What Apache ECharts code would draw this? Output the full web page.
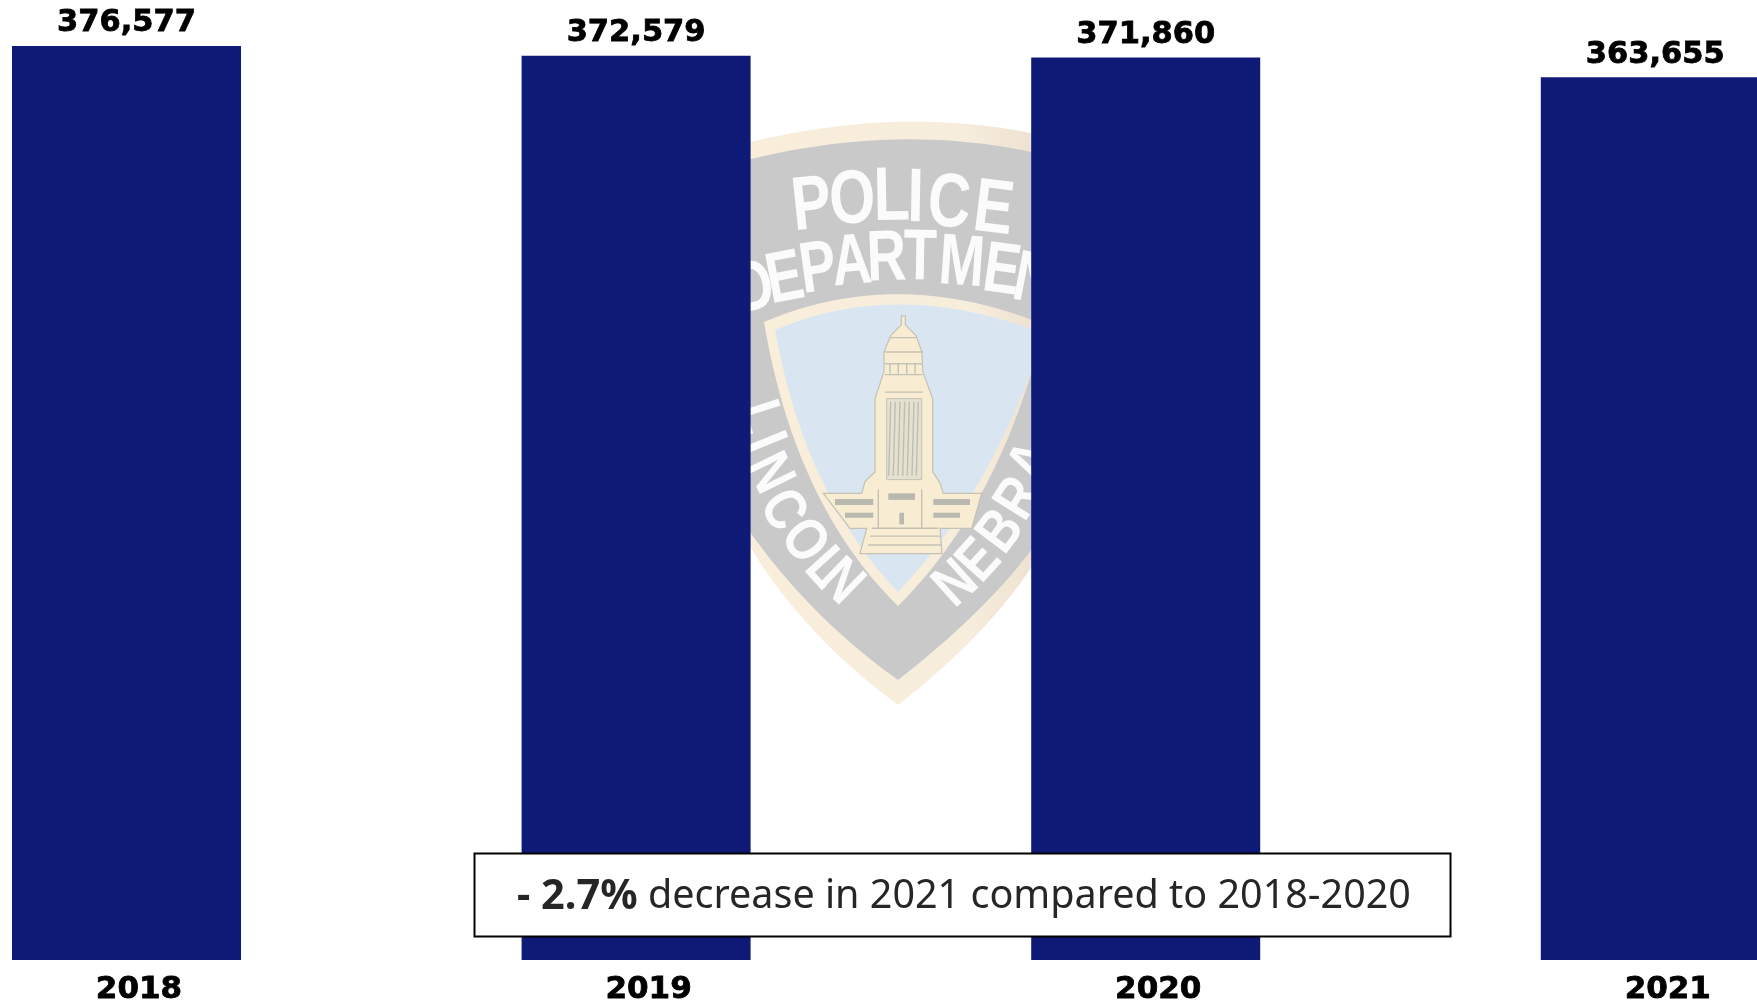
<!DOCTYPE html>
<html><head><meta charset="utf-8">
<style>html,body{margin:0;padding:0;background:#fff}#c{width:1757px;height:1004px}</style>
<script src="https://cdn.jsdelivr.net/npm/echarts@6/dist/echarts.min.js"></script>
</head><body><div id="c"></div>
<script>
const categories = ['2018','2019','2020','2021'];
const stops = [376577,372579,371860,363655];
const note = ['- 2.7%',' decrease in 2021 compared to 2018-2020'];

const Z=-5, LINE='#c4c2b4', CREAM='#f8ecd3';
const g=[];
// turn a small M/L/Q/Z outline into sampled points
function flatten(d){
  const pts=[];let cur=[0,0];
  for(const m of d.matchAll(/([MLQ])([^MLQZ]*)/g)){
    const n=m[2].trim().split(/[ ,]+/).map(Number);
    if(m[1]==='Q'){for(let i=1;i<=24;i++){const t=i/24,u=1-t;pts.push([u*u*cur[0]+2*u*t*n[0]+t*t*n[2],u*u*cur[1]+2*u*t*n[1]+t*t*n[3]]);}cur=[n[2],n[3]];}
    else{pts.push(n);cur=n;}
  }
  return pts;
}
const draw=(d,z,style)=>g.push({type:/Z$/.test(d)?'polygon':'polyline',z:Z+z,silent:true,shape:{points:flatten(d)},style});
const zx=x=>740+x/3, zy=y=>110+y/2.57;
const zp=(pts,close=true)=>'M'+pts.map(p=>zx(p[0]).toFixed(1)+','+zy(p[1]).toFixed(1)).join('L')+(close?'Z':'');
const outerGrad={type:'linear',x:0,y:0,x2:1,y2:0,colorStops:[{offset:0,color:'#f9eeda'},{offset:.75,color:'#f7eddc'},{offset:1,color:'#ecdfcf'}]};
draw('M735,146Q898,103 1045,136L1045,545Q1000,625 898,705Q790,625 735,520Z',0,{fill:outerGrad});
draw('M735,163Q898,120 1045,155L1045,530Q1000,600 898,680Q800,610 735,510Z',1,{fill:'#c9c9c9'});
draw('M764,322Q898,265 1045,325Q1000,505 898,606Q795,505 764,322Z',2,{fill:outerGrad});
draw('M775,330Q898,277 1045,334Q990,495 898,592Q805,495 775,330Z',3,{fill:'#d9e6f1'});
// capitol building
const add=(d,fill,stroke,w,z)=>draw(d,4+(z||0),{fill:fill||'none',stroke:stroke||'none',lineWidth:w||1});
add(zp([[484,530],[496,530],[496,552],[528,580],[546,622],[548,672],[578,742],[578,930],[600,958],[610,985],[725,985],[695,1075],[600,1075],[606,1140],[360,1140],[380,1075],[330,1075],[250,985],[365,985],[375,955],[405,930],[405,742],[432,672],[432,622],[452,580],[484,552]]),CREAM,LINE,1.2);
add(zp([[440,742],[545,742],[545,950],[440,950]]),'#e6e0cf',LINE,1,1);
for(const x of [452,466,480,494,508,522,535]) add(zp([[x,750],[x-6,940]],false),null,'#bdbdb2',1.4,2);
for(const y of [622,652,680,725]) add(zp([[435,y],[548,y]],false),null,LINE,1.4,2);
add(zp([[450,585],[530,585]],false),null,LINE,1.2,2);
for(const x of [450,475,500,525]) add(zp([[x,650],[x,678]],false),null,LINE,1.4,2);
for(const r of [[285,1000,400,1015],[580,1000,690,1015],[315,1035,400,1048],[580,1035,660,1048],[445,985,525,1002],[478,1035,492,1065]]) add(zp([[r[0],r[1]],[r[2],r[1]],[r[2],r[3]],[r[0],r[3]]]),'#b9b9b0',null,0,2);
for(const x of [415,545]) add(zp([[x,975],[x,1075]],false),null,LINE,1.4,2);
for(const y of [1075,1095,1118]) add(zp([[395-(y-1075)/4,y],[595+(y-1075)/4,y]],false),null,LINE,1.4,2);
// shield lettering
const letter=(t,x,y,deg,size,sx)=>g.push({type:'text',z:Z+4,silent:true,x:zx(x),y:zy(y),scaleX:sx,rotation:-deg*Math.PI/180,style:{text:t,fill:'#fbfbfb',font:'bold '+size+'px "Liberation Sans"',align:'center',verticalAlign:'middle'}});
[['P',215,250,-6],['O',337,236,-3],['L',455,228,-1],['I',527,232,1],['C',627,245,4],['E',760,260,7]].forEach(a=>letter(a[0],a[1],a[2],a[3],76,.78));
[['D',42,462,-13],['E',135,438,-11],['P',235,413,-8],['A',335,396,-5],['R',440,386,-2],['T',540,384,1],['M',665,398,4],['E',785,418,8],['N',880,443,11]].forEach(a=>letter(a[0],a[1],a[2],a[3],72,.76));
[['L',55,790,72],['I',72,855,68],['N',85,935,64],['C',125,1030,58],['O',190,1110,52],['L',255,1180,48],['N',300,1215,44]].forEach(a=>letter(a[0],a[1],a[2],a[3],60,.82));
[['N',650,1220,-42],['E',720,1160,-48],['B',785,1085,-53],['R',840,1000,-58],['A',880,905,-63]].forEach(a=>letter(a[0],a[1],a[2],a[3],60,.82));
// note box
g.push({type:'rect',z:20,silent:true,shape:{x:474.5,y:853.5,width:976,height:83},style:{fill:'#fff',stroke:'#000',lineWidth:2}});
g.push({type:'text',z:21,silent:true,x:964,y:897,style:{
  text:'{b|'+note[0]+'}{n|'+note[1]+'}',align:'center',verticalAlign:'middle',
  rich:{b:{font:'bold 41.5px "Noto Sans"',fill:'#262626'},n:{font:'39.5px "Noto Sans"',fill:'#262626'}}}});

const chart=echarts.init(document.getElementById('c'),null,{renderer:'canvas'});
chart.setOption({
  animation:false,backgroundColor:'#fff',
  grid:{left:-128.3,width:2038.4,top:46,height:914,containLabel:false,outerBoundsMode:'none'},
  xAxis:{type:'category',data:categories,axisLine:{show:false},axisTick:{show:false},
    axisLabel:{interval:0,margin:14,padding:[0,0,0,25],color:'#000',fontFamily:'DejaVu Sans',fontWeight:'bold',fontSize:31,textBorderColor:'#000',textBorderWidth:0.8}},
  yAxis:{type:'value',min:0,max:Math.max(...stops),show:false,splitLine:{show:false}},
  series:[{type:'bar',data:stops,barWidth:229,itemStyle:{color:'#0f1a77'},
    label:{show:true,position:'top',distance:7,color:'#000',fontFamily:'DejaVu Sans',fontWeight:'bold',fontSize:30.5,textBorderColor:'#000',textBorderWidth:0.8,
      formatter:p=>p.value.toLocaleString('en-US')}}],
  graphic:{elements:g}
});
</script></body></html>
